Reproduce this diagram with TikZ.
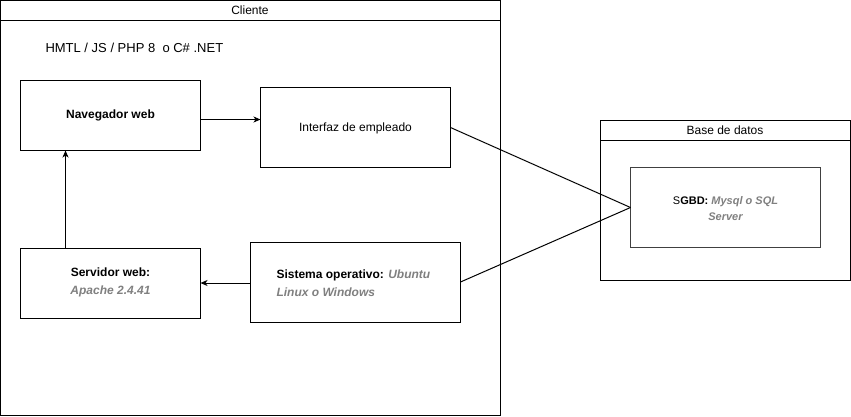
\documentclass[tikz,border=0pt]{standalone}
\usepackage{fontspec}
\setmainfont{Liberation Sans}
\usetikzlibrary{arrows.meta}
\definecolor{hint}{HTML}{808080}
\begin{document}
\begin{tikzpicture}[x=1pt,y=-1pt,line width=1pt,
  box/.style={draw=black,fill=white,line width=1pt},
  lbl/.style={font=\fontsize{12}{17.5}\selectfont\bfseries,align=center,inner sep=0pt},
  lblr/.style={font=\fontsize{12}{17.5}\selectfont,align=center,inner sep=0pt},
  lbls/.style={font=\fontsize{11}{16}\selectfont\bfseries,align=center,inner sep=0pt},
  title/.style={font=\fontsize{12}{14}\selectfont,inner sep=0pt},
  arr/.style={-{Stealth[length=7pt,width=6pt,inset=2pt]},line width=1pt}]
\useasboundingbox (0,0) rectangle (851,416);
% Cliente container
\draw[box] (0.5,0.5) rectangle (500,415);
\draw (0.5,20.5) -- (500,20.5);
\node[title] (tcli) at (250,10.5) {Cliente};
\node[title,font=\fontsize{13}{15}\selectfont,anchor=west] (tech) at (45,48) {HMTL / JS / PHP 8~~o C\# .NET};
% Base de datos container
\draw[box] (600.5,120.5) rectangle (850,280);
\draw (600.5,140.5) -- (850,140.5);
\node[title] (tbd) at (725,130.5) {Base de datos};
% nodes
\draw[box] (20.5,80.5) rectangle (200.5,150.5);
\node[lbl] (nav) at (110.5,115.5) {Navegador web};
\coordinate (navR) at (200.5,119.5);
\coordinate (navB) at (65.5,150.5);
\draw[box] (260.5,87.5) rectangle (450.5,167.5);
\node[lblr] (int) at (355.5,128) {Interfaz de empleado};
\coordinate (intL) at (260.5,119.5);
\coordinate (intR) at (450.5,127.5);
\draw[box] (20.5,248) rectangle (200.5,318);
\node[lbl] (srv) at (110.5,282.5) {Servidor web:\\\textcolor{hint}{\itshape Apache 2.4.41}};
\coordinate (srvT) at (65.5,248);
\coordinate (srvR) at (200.5,283);
\draw[box] (250.5,242.5) rectangle (460.5,322);
\node[lbl,align=left,anchor=west] (so) at (276,283) {Sistema operativo: \textcolor{hint}{\itshape Ubuntu}\\\textcolor{hint}{\itshape Linux o Windows}};
\coordinate (soL) at (250.5,283);
\coordinate (soR) at (460.5,282);
\draw[box,draw=black!75] (630.5,167.5) rectangle (820.5,247.5);
\node[lbls] (db) at (725.5,208.5) {{\mdseries S}GBD: \textcolor{hint}{\itshape Mysql o SQL}\\\textcolor{hint}{\itshape Server}};
\coordinate (dbL) at (630.5,207.5);
% connectors
\draw[arr] (navR) -- (intL);
\draw[arr] (srvT) -- (navB);
\draw[arr] (soL) -- (srvR);
\draw (intR) -- (dbL);
\draw (soR) -- (dbL);
\end{tikzpicture}
\end{document}
